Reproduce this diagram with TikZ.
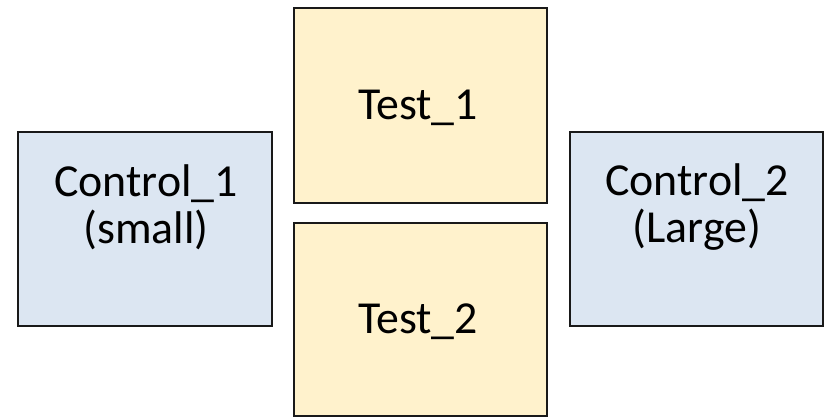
\documentclass[tikz,border=0pt]{standalone}
\usepackage{fontspec}
\setmainfont{Carlito}
\begin{document}
\begin{tikzpicture}[x=1bp,y=-1bp,
  ctrl/.style={draw=black!90, line width=1.8bp, fill=ctrlblue},
  tst/.style={draw=black!90, line width=1.8bp, fill=testyellow},
  lbl/.style={align=center, font=\fontsize{46}{47}\selectfont, inner sep=0}]
\definecolor{ctrlblue}{HTML}{DCE6F2}
\definecolor{testyellow}{HTML}{FFF2CC}
\useasboundingbox (0,0) rectangle (826,419);
\draw[ctrl] (18,132) rectangle (272,326);
\draw[tst] (294,8) rectangle (547,203);
\draw[tst] (294,223) rectangle (547,416);
\draw[ctrl] (570,132) rectangle (823,326);
\node[lbl] (c1) at (146,207) {Control\_1\\(small)};
\node[lbl] (t1) at (418,108) {Test\_1};
\node[lbl] (t2) at (418,322) {Test\_2};
\node[lbl] (c2) at (697,207) {Control\_2\\(Large)};
\end{tikzpicture}
\end{document}
